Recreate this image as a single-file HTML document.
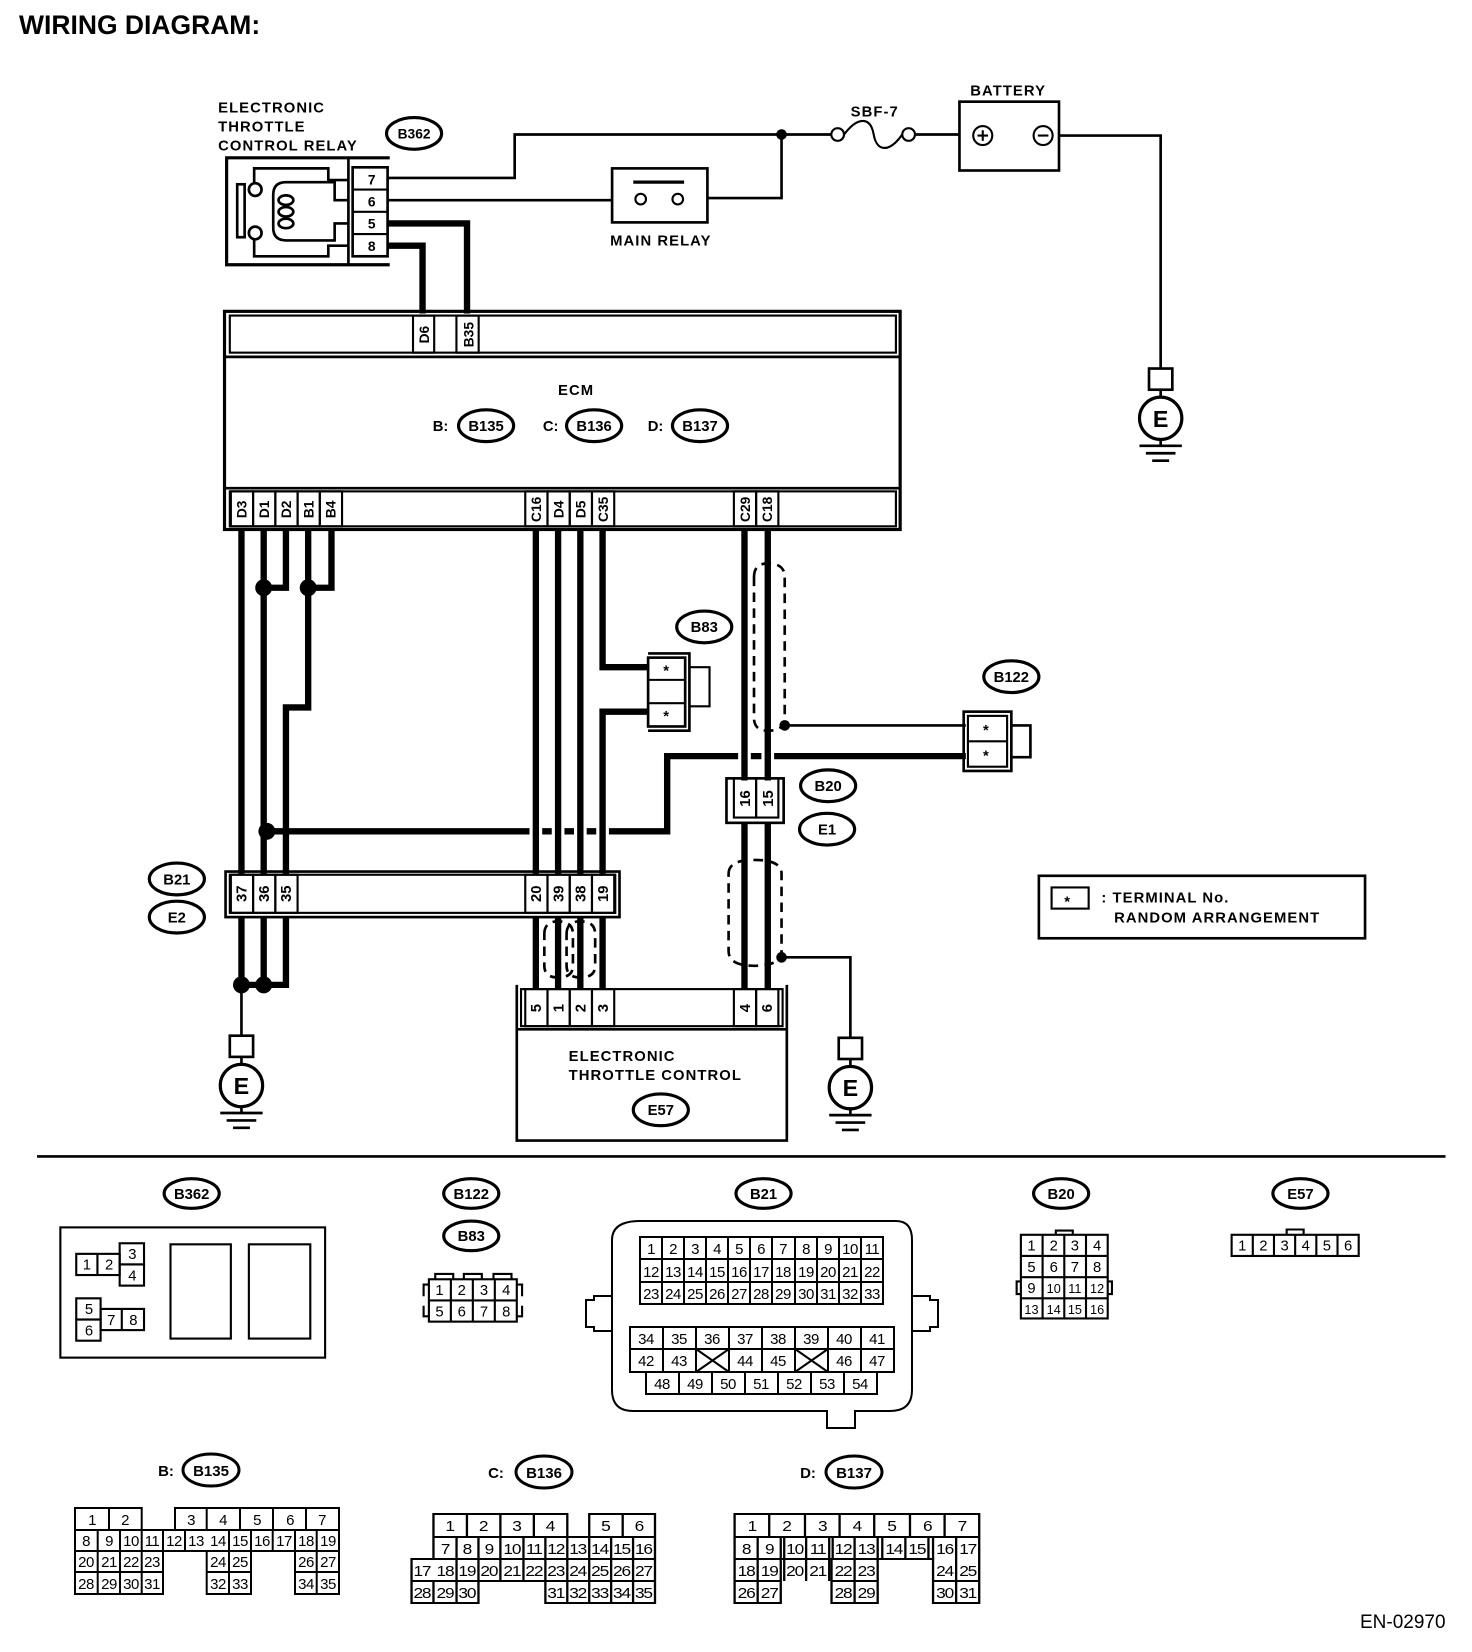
<!DOCTYPE html>
<html><head><meta charset="utf-8">
<style>
html,body{margin:0;padding:0;background:#fff;}
svg{display:block;}
text{font-family:"Liberation Sans",Arial,sans-serif;fill:#000;}
.b{font-weight:bold;}
</style></head>
<body>
<svg width="1472" height="1652" viewBox="0 0 1472 1652" xmlns="http://www.w3.org/2000/svg">
<defs>
<g id="gnd" fill="none" stroke="#000" stroke-width="2.5">
<rect x="-11" y="0" width="22" height="20" fill="#fff"/>
<line x1="0" y1="20" x2="0" y2="27"/>
<circle cx="0" cy="47" r="20" stroke-width="3"/>
<line x1="0" y1="67" x2="0" y2="73"/>
<line x1="-20" y1="73" x2="20" y2="73"/>
<line x1="-14" y1="80" x2="14" y2="80"/>
<line x1="-8" y1="87" x2="8" y2="87"/>
</g>
</defs>
<g transform="scale(1.0590)">
<text x="18" y="32" class="b" font-size="25">WIRING DIAGRAM:</text>

<g font-size="14" class="b" letter-spacing="1">
<text x="206" y="106">ELECTRONIC</text>
<text x="206" y="124">THROTTLE</text>
<text x="206" y="142">CONTROL RELAY</text>
</g>
<g fill="none" stroke="#000">
<ellipse cx="391" cy="126" rx="26" ry="15" stroke-width="3"/>
<path d="M368 149 H214 V250 H368" stroke-width="3"/>
<line x1="329" y1="149" x2="329" y2="250" stroke-width="2.5"/>
<rect x="333" y="158" width="33" height="84" stroke-width="2.5"/>
<line x1="333" y1="179" x2="366" y2="179" stroke-width="2"/>
<line x1="333" y1="200" x2="366" y2="200" stroke-width="2"/>
<line x1="333" y1="221" x2="366" y2="221" stroke-width="2"/>
<path d="M329 170 H310 V159 H240 V173" stroke-width="2.5"/>
<path d="M329 232 H310 V242 H240 V226" stroke-width="2.5"/>
<path d="M329 189 H316 V172 H270 Q258 172 258 184 V215 Q258 227 270 227 H316 V211 H329" stroke-width="2.5"/>
<rect x="224" y="174" width="7" height="50" stroke-width="2.5"/>
<circle cx="241" cy="179" r="6" fill="#fff" stroke-width="2.5"/>
<circle cx="241" cy="220" r="6" fill="#fff" stroke-width="2.5"/>
<ellipse cx="270" cy="189" rx="7" ry="4.5" stroke-width="2.5"/>
<ellipse cx="270" cy="200" rx="7" ry="4.5" stroke-width="2.5"/>
<ellipse cx="270" cy="211" rx="7" ry="4.5" stroke-width="2.5"/>
</g>
<g font-size="13" class="b" text-anchor="middle">
<text x="391" y="131">B362</text>
<text x="351" y="174">7</text><text x="351" y="195">6</text><text x="351" y="216">5</text><text x="351" y="237">8</text>
</g>

<g fill="none" stroke="#000" stroke-width="2.5">
<path d="M366 168 H486 V127 H785"/>
<path d="M366 189 H578"/>
<path d="M668 187 H738 V127"/>
<path d="M865 127 H906"/>
<path d="M1000 128 H1096 V348"/>
<rect x="578" y="159" width="90" height="51"/>
<line x1="598" y1="172" x2="646" y2="172" stroke-width="3"/>
<circle cx="605" cy="188" r="5" stroke-width="2"/>
<circle cx="640" cy="188" r="5" stroke-width="2"/>
<rect x="906" y="96" width="94" height="65"/>
<circle cx="928" cy="128" r="9" stroke-width="2"/>
<circle cx="985" cy="128" r="9" stroke-width="2"/>
<line x1="923" y1="128" x2="933" y2="128" stroke-width="2"/><line x1="928" y1="123" x2="928" y2="133" stroke-width="2"/>
<line x1="980" y1="128" x2="990" y2="128" stroke-width="2"/>
<circle cx="791" cy="127" r="6" stroke-width="2"/>
<circle cx="858" cy="127" r="6" stroke-width="2"/>
<path d="M797 127 C810 110 822 110 825 127 C828 144 840 144 852 127" stroke-width="2"/>
</g>
<circle cx="738" cy="127" r="5"/>
<g font-size="14" class="b" letter-spacing="1" text-anchor="middle">
<text x="624" y="232">MAIN RELAY</text>
<text x="826" y="110">SBF-7</text>
<text x="952" y="90">BATTERY</text>
</g>
<use href="#gnd" x="1096" y="348"/>
<text x="1096" y="403" class="b" font-size="22" text-anchor="middle">E</text>

<g fill="none" stroke="#000" stroke-width="6">
<path d="M366 211 H441 V296"/>
<path d="M366 232 H399 V296"/>
</g>

<g fill="none" stroke="#000">
<rect x="212" y="294" width="638" height="206" stroke-width="3"/>
<rect x="217" y="298" width="629" height="35" stroke-width="2"/>
<line x1="212" y1="337" x2="850" y2="337" stroke-width="2.5"/>
<line x1="212" y1="461" x2="850" y2="461" stroke-width="2.5"/>
<rect x="217" y="464" width="629" height="33" stroke-width="2"/>
<rect x="390" y="298" width="20" height="35" stroke-width="2"/>
<rect x="431" y="298" width="21" height="35" stroke-width="2"/>
</g>
<g font-size="13" class="b" text-anchor="middle">
<text transform="translate(405,316) rotate(-90)">D6</text>
<text transform="translate(447,316) rotate(-90)">B35</text>
</g>
<text x="544" y="373" font-size="14" class="b" text-anchor="middle" letter-spacing="1">ECM</text>
<g fill="none" stroke="#000" stroke-width="3">
<ellipse cx="459" cy="402" rx="26" ry="15"/>
<ellipse cx="561" cy="402" rx="26" ry="15"/>
<ellipse cx="661" cy="402" rx="26" ry="15"/>
</g>
<g font-size="14" class="b" text-anchor="middle">
<text x="416" y="407">B:</text><text x="459" y="407">B135</text>
<text x="520" y="407">C:</text><text x="561" y="407">B136</text>
<text x="619" y="407">D:</text><text x="661" y="407">B137</text>
</g>
<g fill="none" stroke="#000" stroke-width="2">
<rect x="218" y="464" width="21" height="33"/><rect x="239" y="464" width="21" height="33"/>
<rect x="260" y="464" width="21" height="33"/><rect x="281" y="464" width="21" height="33"/>
<rect x="302" y="464" width="21" height="33"/>
<rect x="496" y="464" width="21" height="33"/><rect x="517" y="464" width="21" height="33"/>
<rect x="538" y="464" width="21" height="33"/><rect x="559" y="464" width="21" height="33"/>
<rect x="693" y="464" width="21" height="33"/><rect x="714" y="464" width="21" height="33"/>
</g>
<g font-size="13" class="b" text-anchor="middle">
<text transform="translate(233,481) rotate(-90)">D3</text>
<text transform="translate(254,481) rotate(-90)">D1</text>
<text transform="translate(275,481) rotate(-90)">D2</text>
<text transform="translate(296,481) rotate(-90)">B1</text>
<text transform="translate(317,481) rotate(-90)">B4</text>
<text transform="translate(511,481) rotate(-90)">C16</text>
<text transform="translate(532,481) rotate(-90)">D4</text>
<text transform="translate(553,481) rotate(-90)">D5</text>
<text transform="translate(574,481) rotate(-90)">C35</text>
<text transform="translate(708,481) rotate(-90)">C29</text>
<text transform="translate(729,481) rotate(-90)">C18</text>
</g>

<g fill="none" stroke="#000" stroke-width="6">
<path d="M228 499 V825"/>
<path d="M249 499 V825"/>
<path d="M270 499 V555 H249"/>
<path d="M313 499 V555 H291"/>
<path d="M291 499 V668 H270 V825"/>
<path d="M506 499 V825"/>
<path d="M527 499 V825"/>
<path d="M548 499 V825"/>
<path d="M569 499 V630 H612"/>
<path d="M612 672 H569 V825"/>
<path d="M703 499 V737"/>
<path d="M725 499 V737"/>
<path d="M252 785 H500 M512 785 H521 M533 785 H542 M554 785 H563 M575 785 H630 V714 H697 M709 714 H719 M731 714 H912"/>
<path d="M228 866 V930 M249 866 V930 H228 M270 866 V930 H249"/>
<path d="M506 866 V934 M527 866 V934 M548 866 V934 M569 866 V934"/>
<path d="M703 776 V934 M725 776 V934"/>
</g>
<g fill="#000">
<circle cx="249" cy="555" r="8"/><circle cx="291" cy="555" r="8"/>
<circle cx="252" cy="785" r="8"/>
<circle cx="228" cy="930" r="8"/><circle cx="249" cy="930" r="8"/>
<circle cx="741" cy="685" r="5"/><circle cx="738" cy="904" r="5"/>
</g>
<g fill="none" stroke="#000" stroke-width="2.5">
<path d="M741 685 H912"/>
<path d="M738 904 H803 V980"/>
<path d="M228 930 V978"/>
</g>
<g fill="none" stroke="#000" stroke-width="2.5" stroke-dasharray="9,6">
<path d="M712 545 Q712 532 725 532 Q741 532 741 545 V678 Q741 690 725 690 Q712 690 712 678 Z"/>
<path d="M688 825 Q688 812 712 812 Q738 812 738 825 V898 Q738 912 712 912 Q688 912 688 898 Z"/>
<path d="M514 882 Q514 870 527 870 Q541 870 541 882 V912 Q541 923 527 923 Q514 923 514 912 Z"/>
<path d="M535 882 Q535 870 548 870 Q562 870 562 882 V912 Q562 923 548 923 Q535 923 535 912 Z"/>
</g>

<g fill="none" stroke="#000">
<ellipse cx="665" cy="592" rx="26" ry="15" stroke-width="3"/>
<path d="M612 617 H651 V690 H612" stroke-width="2.5"/>
<rect x="612" y="621" width="35" height="65" stroke-width="2.5"/>
<line x1="612" y1="642" x2="647" y2="642" stroke-width="2"/>
<line x1="612" y1="664" x2="647" y2="664" stroke-width="2"/>
<path d="M651 630 H670 V667 H651" stroke-width="2"/>
</g>
<g font-size="14" class="b" text-anchor="middle">
<text x="665" y="597">B83</text>
<text x="629" y="638">*</text><text x="629" y="681">*</text>
</g>
<g fill="none" stroke="#000">
<ellipse cx="955" cy="639" rx="26" ry="15" stroke-width="3"/>
<rect x="910" y="672" width="45" height="56" stroke-width="2.5"/>
<rect x="914" y="676" width="37" height="48" stroke-width="2"/>
<line x1="914" y1="700" x2="951" y2="700" stroke-width="2"/>
<path d="M955 685 H973 V715 H955" stroke-width="2.5"/>
</g>
<g font-size="14" class="b" text-anchor="middle">
<text x="955" y="644">B122</text>
<text x="931" y="694">*</text><text x="931" y="718">*</text>
</g>
<g fill="none" stroke="#000">
<rect x="686" y="735" width="54" height="42" stroke-width="2.5"/>
<rect x="693" y="735" width="21" height="37" stroke-width="2"/>
<rect x="714" y="735" width="21" height="37" stroke-width="2"/>
<ellipse cx="782" cy="742" rx="26" ry="15" stroke-width="3"/>
<ellipse cx="781" cy="783" rx="26" ry="15" stroke-width="3"/>
</g>
<g font-size="14" class="b" text-anchor="middle">
<text transform="translate(708,754) rotate(-90)">16</text>
<text transform="translate(730,754) rotate(-90)">15</text>
<text x="782" y="747">B20</text><text x="781" y="788">E1</text>
</g>

<g fill="none" stroke="#000">
<rect x="213" y="823" width="372" height="43" stroke-width="2.5"/>
<rect x="217" y="826" width="364" height="36" stroke-width="2"/>
<rect x="218" y="826" width="21" height="36" stroke-width="2"/><rect x="239" y="826" width="21" height="36" stroke-width="2"/>
<rect x="260" y="826" width="21" height="36" stroke-width="2"/>
<rect x="496" y="826" width="21" height="36" stroke-width="2"/><rect x="517" y="826" width="21" height="36" stroke-width="2"/>
<rect x="538" y="826" width="21" height="36" stroke-width="2"/><rect x="559" y="826" width="21" height="36" stroke-width="2"/>
<ellipse cx="167" cy="830" rx="26" ry="15" stroke-width="3"/>
<ellipse cx="167" cy="866" rx="26" ry="15" stroke-width="3"/>
</g>
<g font-size="14" class="b" text-anchor="middle">
<text transform="translate(233,844) rotate(-90)">37</text>
<text transform="translate(254,844) rotate(-90)">36</text>
<text transform="translate(275,844) rotate(-90)">35</text>
<text transform="translate(511,844) rotate(-90)">20</text>
<text transform="translate(532,844) rotate(-90)">39</text>
<text transform="translate(553,844) rotate(-90)">38</text>
<text transform="translate(574,844) rotate(-90)">19</text>
<text x="167" y="835">B21</text><text x="167" y="871">E2</text>
</g>

<g fill="none" stroke="#000">
<path d="M488 930 V1077 H743 V930" stroke-width="2.5"/>
<rect x="492" y="934" width="247" height="35" stroke-width="2"/>
<line x1="488" y1="972" x2="743" y2="972" stroke-width="2.5"/>
<rect x="496" y="934" width="21" height="35" stroke-width="2"/><rect x="517" y="934" width="21" height="35" stroke-width="2"/>
<rect x="538" y="934" width="21" height="35" stroke-width="2"/><rect x="559" y="934" width="21" height="35" stroke-width="2"/>
<rect x="693" y="934" width="21" height="35" stroke-width="2"/><rect x="714" y="934" width="21" height="35" stroke-width="2"/>
<ellipse cx="624" cy="1048" rx="26" ry="15" stroke-width="3"/>
</g>
<g font-size="14" class="b" text-anchor="middle">
<text transform="translate(511,952) rotate(-90)">5</text>
<text transform="translate(532,952) rotate(-90)">1</text>
<text transform="translate(553,952) rotate(-90)">2</text>
<text transform="translate(574,952) rotate(-90)">3</text>
<text transform="translate(708,952) rotate(-90)">4</text>
<text transform="translate(729,952) rotate(-90)">6</text>
<text x="624" y="1053">E57</text>
</g>
<g font-size="14" class="b" letter-spacing="1">
<text x="537" y="1002">ELECTRONIC</text>
<text x="537" y="1020">THROTTLE CONTROL</text>
</g>
<use href="#gnd" x="228" y="978"/>
<text x="228" y="1033" class="b" font-size="22" text-anchor="middle">E</text>
<use href="#gnd" x="803" y="980"/>
<text x="803" y="1035" class="b" font-size="22" text-anchor="middle">E</text>

<g fill="none" stroke="#000">
<rect x="981" y="827" width="308" height="59" stroke-width="2.5"/>
<rect x="993" y="838" width="35" height="20" stroke-width="2"/>
</g>
<g font-size="14" class="b" letter-spacing="1">
<text x="1005" y="856">*</text>
<text x="1040" y="852">: TERMINAL No.</text>
<text x="1052" y="871">RANDOM ARRANGEMENT</text>
</g>

<line x1="35" y1="1092" x2="1365" y2="1092" stroke="#000" stroke-width="2.5"/>

<g fill="none" stroke="#000" stroke-width="3">
<ellipse cx="181" cy="1127" rx="26" ry="14"/>
<ellipse cx="445" cy="1127" rx="26" ry="14"/>
<ellipse cx="445" cy="1167" rx="26" ry="14"/>
<ellipse cx="721" cy="1127" rx="26" ry="14"/>
<ellipse cx="1002" cy="1127" rx="26" ry="14"/>
<ellipse cx="1228" cy="1127" rx="26" ry="14"/>
</g>
<g font-size="14" class="b" text-anchor="middle">
<text x="181" y="1132">B362</text><text x="445" y="1132">B122</text><text x="445" y="1172">B83</text>
<text x="721" y="1132">B21</text><text x="1002" y="1132">B20</text><text x="1228" y="1132">E57</text>
</g>
<g fill="none" stroke="#000" stroke-width="2">
<rect x="57" y="1159" width="250" height="123"/>
<rect x="72" y="1184" width="41" height="20"/><line x1="92" y1="1184" x2="92" y2="1204"/>
<rect x="113" y="1174" width="23" height="20"/><rect x="113" y="1194" width="23" height="20"/>
<rect x="72" y="1226" width="23" height="20"/><rect x="72" y="1246" width="23" height="20"/>
<rect x="95" y="1236" width="41" height="20"/><line x1="115" y1="1236" x2="115" y2="1256"/>
<rect x="161" y="1175" width="57" height="89"/><rect x="235" y="1175" width="58" height="89"/>
<rect x="405" y="1208" width="83" height="40"/>
<line x1="405" y1="1228" x2="488" y2="1228"/>
<line x1="425.75" y1="1208" x2="425.75" y2="1248"/><line x1="446.5" y1="1208" x2="446.5" y2="1248"/><line x1="467.25" y1="1208" x2="467.25" y2="1248"/>
<path d="M405 1213 H400 V1224 M405 1243 H400 V1233 M488 1213 H493 V1224 M488 1243 H493 V1233"/>
<path d="M411 1208 V1203 H428 V1208 M438 1208 V1203 H455 V1208 M466 1208 V1203 H483 V1208"/>
<rect x="964" y="1166" width="82" height="79"/>
<line x1="964" y1="1186" x2="1046" y2="1186"/><line x1="964" y1="1206" x2="1046" y2="1206"/><line x1="964" y1="1226" x2="1046" y2="1226"/>
<line x1="984.5" y1="1166" x2="984.5" y2="1245"/><line x1="1005" y1="1166" x2="1005" y2="1245"/><line x1="1025.5" y1="1166" x2="1025.5" y2="1245"/>
<path d="M964 1210 H960 V1222 H964 M1046 1210 H1050 V1222 H1046 M997 1166 V1162 H1013 V1166"/>
<rect x="1163" y="1166" width="120" height="20"/>
<line x1="1183" y1="1166" x2="1183" y2="1186"/><line x1="1203" y1="1166" x2="1203" y2="1186"/><line x1="1223" y1="1166" x2="1223" y2="1186"/><line x1="1243" y1="1166" x2="1243" y2="1186"/><line x1="1263" y1="1166" x2="1263" y2="1186"/>
<path d="M1215 1166 V1161 H1231 V1166"/>
</g>
<g font-size="14" text-anchor="middle">
<text x="82" y="1199">1</text><text x="103" y="1199">2</text><text x="125" y="1189">3</text><text x="125" y="1209">4</text>
<text x="84" y="1241">5</text><text x="84" y="1261">6</text><text x="105" y="1251">7</text><text x="126" y="1251">8</text>
<text x="415" y="1223">1</text><text x="436" y="1223">2</text><text x="457" y="1223">3</text><text x="478" y="1223">4</text>
<text x="415" y="1243">5</text><text x="436" y="1243">6</text><text x="457" y="1243">7</text><text x="478" y="1243">8</text>
<text x="974" y="1181">1</text><text x="995" y="1181">2</text><text x="1015" y="1181">3</text><text x="1036" y="1181">4</text>
<text x="974" y="1201">5</text><text x="995" y="1201">6</text><text x="1015" y="1201">7</text><text x="1036" y="1201">8</text>
<text x="974" y="1221">9</text><text x="995" y="1221" font-size="12">10</text><text x="1015" y="1221" font-size="12">11</text><text x="1036" y="1221" font-size="12">12</text>
<text x="974" y="1241" font-size="12">13</text><text x="995" y="1241" font-size="12">14</text><text x="1015" y="1241" font-size="12">15</text><text x="1036" y="1241" font-size="12">16</text>
<text x="1173" y="1181">1</text><text x="1193" y="1181">2</text><text x="1213" y="1181">3</text><text x="1233" y="1181">4</text><text x="1253" y="1181">5</text><text x="1273" y="1181">6</text>
</g>
</g>

<!-- B21 pic (actual coords) -->
<g fill="none" stroke="#000" stroke-width="2">
<path d="M640 1221 H896 Q912 1221 912 1240 V1390 Q912 1411 890 1411 H855 V1428 H827 V1411 H633 Q612 1411 612 1390 V1240 Q612 1221 640 1221 Z"/>
<path d="M612 1296 H594 V1300 H586 V1327 H594 V1331 H612"/>
<path d="M912 1296 H930 V1300 H938 V1327 H930 V1331 H912"/>
<rect x="640" y="1237" width="243" height="67"/>
<line x1="640" y1="1259" x2="883" y2="1259"/><line x1="640" y1="1282" x2="883" y2="1282"/>
<line x1="662" y1="1237" x2="662" y2="1304"/><line x1="684" y1="1237" x2="684" y2="1304"/><line x1="706" y1="1237" x2="706" y2="1304"/><line x1="728" y1="1237" x2="728" y2="1304"/><line x1="750" y1="1237" x2="750" y2="1304"/><line x1="772" y1="1237" x2="772" y2="1304"/><line x1="795" y1="1237" x2="795" y2="1304"/><line x1="817" y1="1237" x2="817" y2="1304"/><line x1="839" y1="1237" x2="839" y2="1304"/><line x1="861" y1="1237" x2="861" y2="1304"/>
<rect x="630" y="1327" width="264" height="45"/>
<line x1="630" y1="1349" x2="894" y2="1349"/>
<line x1="663" y1="1327" x2="663" y2="1372"/><line x1="696" y1="1327" x2="696" y2="1372"/><line x1="729" y1="1327" x2="729" y2="1372"/><line x1="762" y1="1327" x2="762" y2="1372"/><line x1="795" y1="1327" x2="795" y2="1372"/><line x1="828" y1="1327" x2="828" y2="1372"/><line x1="861" y1="1327" x2="861" y2="1372"/>
<path d="M696 1349 L729 1372 M729 1349 L696 1372 M795 1349 L828 1372 M828 1349 L795 1372"/>
<rect x="646" y="1372" width="231" height="22"/>
<line x1="679" y1="1372" x2="679" y2="1394"/><line x1="712" y1="1372" x2="712" y2="1394"/><line x1="745" y1="1372" x2="745" y2="1394"/><line x1="778" y1="1372" x2="778" y2="1394"/><line x1="811" y1="1372" x2="811" y2="1394"/><line x1="844" y1="1372" x2="844" y2="1394"/>
</g>
<g font-size="15" text-anchor="middle" letter-spacing="-0.5">
<text x="651" y="1254">1</text><text x="673" y="1254">2</text><text x="695" y="1254">3</text><text x="717" y="1254">4</text><text x="739" y="1254">5</text><text x="761" y="1254">6</text><text x="783" y="1254">7</text><text x="806" y="1254">8</text><text x="828" y="1254">9</text><text x="850" y="1254">10</text><text x="872" y="1254">11</text>
<text x="651" y="1277">12</text><text x="673" y="1277">13</text><text x="695" y="1277">14</text><text x="717" y="1277">15</text><text x="739" y="1277">16</text><text x="761" y="1277">17</text><text x="783" y="1277">18</text><text x="806" y="1277">19</text><text x="828" y="1277">20</text><text x="850" y="1277">21</text><text x="872" y="1277">22</text>
<text x="651" y="1299">23</text><text x="673" y="1299">24</text><text x="695" y="1299">25</text><text x="717" y="1299">26</text><text x="739" y="1299">27</text><text x="761" y="1299">28</text><text x="783" y="1299">29</text><text x="806" y="1299">30</text><text x="828" y="1299">31</text><text x="850" y="1299">32</text><text x="872" y="1299">33</text>
<text x="646" y="1344">34</text><text x="679" y="1344">35</text><text x="712" y="1344">36</text><text x="745" y="1344">37</text><text x="778" y="1344">38</text><text x="811" y="1344">39</text><text x="844" y="1344">40</text><text x="877" y="1344">41</text>
<text x="646" y="1366">42</text><text x="679" y="1366">43</text><text x="745" y="1366">44</text><text x="778" y="1366">45</text><text x="844" y="1366">46</text><text x="877" y="1366">47</text>
<text x="662" y="1389">48</text><text x="695" y="1389">49</text><text x="728" y="1389">50</text><text x="761" y="1389">51</text><text x="794" y="1389">52</text><text x="827" y="1389">53</text><text x="860" y="1389">54</text>
</g>

<g fill="none" stroke="#000" stroke-width="3">
<ellipse cx="211" cy="1470" rx="28" ry="16"/>
<ellipse cx="544" cy="1472" rx="28" ry="16"/>
<ellipse cx="854" cy="1472" rx="28" ry="16"/>
</g>
<g font-size="15" class="b" text-anchor="middle">
<text x="166" y="1476">B:</text><text x="211" y="1476">B135</text>
<text x="496" y="1478">C:</text><text x="544" y="1478">B136</text>
<text x="808" y="1478">D:</text><text x="854" y="1478">B137</text>
</g>
<!-- B135 -->
<g fill="none" stroke="#000" stroke-width="2">
<path d="M141.7 1530 V1508 H75 V1594 H163 V1551 H206.7 V1594 H251 V1551 H295 V1594 H339 V1508 H175 V1530"/>
<line x1="75" y1="1530" x2="339" y2="1530"/>
<line x1="75" y1="1551" x2="339" y2="1551"/><line x1="75" y1="1572" x2="163" y2="1572"/><line x1="206.7" y1="1572" x2="251" y2="1572"/><line x1="295" y1="1572" x2="339" y2="1572"/>
<line x1="109" y1="1508" x2="109" y2="1530"/><line x1="206.7" y1="1508" x2="206.7" y2="1530"/><line x1="240" y1="1508" x2="240" y2="1530"/><line x1="273" y1="1508" x2="273" y2="1530"/><line x1="306" y1="1508" x2="306" y2="1530"/>
<line x1="97.7" y1="1530" x2="97.7" y2="1594"/><line x1="120" y1="1530" x2="120" y2="1594"/><line x1="141.7" y1="1530" x2="141.7" y2="1594"/><line x1="163" y1="1530" x2="163" y2="1551"/><line x1="185" y1="1530" x2="185" y2="1551"/>
<line x1="229" y1="1530" x2="229" y2="1594"/><line x1="251" y1="1530" x2="251" y2="1551"/><line x1="272.7" y1="1530" x2="272.7" y2="1551"/><line x1="295" y1="1530" x2="295" y2="1551"/><line x1="316.7" y1="1530" x2="316.7" y2="1594"/>
</g>
<g font-size="15" text-anchor="middle" letter-spacing="-0.5">
<text x="92" y="1525">1</text><text x="125" y="1525">2</text><text x="191" y="1525">3</text><text x="223" y="1525">4</text><text x="257" y="1525">5</text><text x="290" y="1525">6</text><text x="322" y="1525">7</text>
<text x="86" y="1546">8</text><text x="109" y="1546">9</text><text x="131" y="1546">10</text><text x="152" y="1546">11</text><text x="174" y="1546">12</text><text x="196" y="1546">13</text><text x="218" y="1546">14</text><text x="240" y="1546">15</text><text x="262" y="1546">16</text><text x="284" y="1546">17</text><text x="306" y="1546">18</text><text x="328" y="1546">19</text>
<text x="86" y="1567">20</text><text x="109" y="1567">21</text><text x="131" y="1567">22</text><text x="152" y="1567">23</text><text x="218" y="1567">24</text><text x="240" y="1567">25</text><text x="306" y="1567">26</text><text x="328" y="1567">27</text>
<text x="86" y="1589">28</text><text x="109" y="1589">29</text><text x="131" y="1589">30</text><text x="152" y="1589">31</text><text x="218" y="1589">32</text><text x="240" y="1589">33</text><text x="306" y="1589">34</text><text x="328" y="1589">35</text>
</g>
<!-- B136 / B137 scaled horizontally -->
<g transform="translate(400,1459) scale(1.1538,1) translate(-400,-1450)">
<g fill="none" stroke="#000" stroke-width="2">
<path d="M545 1528 V1505 H429 V1550 H410 V1594 H468 V1572 H526 V1594 H621 V1505 H564 V1528"/>
<line x1="429" y1="1528" x2="621" y2="1528"/><line x1="410" y1="1550" x2="621" y2="1550"/><line x1="410" y1="1572" x2="468" y2="1572"/><line x1="526" y1="1572" x2="621" y2="1572"/>
<line x1="458" y1="1505" x2="458" y2="1528"/><line x1="487" y1="1505" x2="487" y2="1528"/><line x1="516" y1="1505" x2="516" y2="1528"/><line x1="593" y1="1505" x2="593" y2="1528"/>
<line x1="449" y1="1528" x2="449" y2="1572"/><line x1="468" y1="1528" x2="468" y2="1572"/><line x1="487" y1="1528" x2="487" y2="1572"/><line x1="507" y1="1528" x2="507" y2="1572"/><line x1="526" y1="1528" x2="526" y2="1572"/><line x1="545" y1="1528" x2="545" y2="1594"/><line x1="564" y1="1528" x2="564" y2="1594"/><line x1="583" y1="1528" x2="583" y2="1594"/><line x1="602" y1="1528" x2="602" y2="1594"/>
<line x1="429" y1="1572" x2="429" y2="1594"/><line x1="449" y1="1572" x2="449" y2="1594"/>
<path d="M690 1505 H902 V1594 H862 V1550 H814 V1594 H774 V1550 H730 V1594 H690 Z"/>
<line x1="690" y1="1528" x2="902" y2="1528"/><line x1="690" y1="1550" x2="814" y2="1550"/><line x1="690" y1="1572" x2="730" y2="1572"/><line x1="774" y1="1572" x2="814" y2="1572"/><line x1="862" y1="1572" x2="902" y2="1572"/>
<line x1="720" y1="1505" x2="720" y2="1528"/><line x1="751" y1="1505" x2="751" y2="1528"/><line x1="781" y1="1505" x2="781" y2="1528"/><line x1="811" y1="1505" x2="811" y2="1528"/><line x1="842" y1="1505" x2="842" y2="1528"/><line x1="872" y1="1505" x2="872" y2="1528"/>
<line x1="710" y1="1528" x2="710" y2="1594"/><line x1="730" y1="1528" x2="730" y2="1550"/><line x1="733" y1="1528" x2="733" y2="1572"/><line x1="752" y1="1528" x2="752" y2="1572"/><line x1="772" y1="1528" x2="772" y2="1572"/><line x1="775" y1="1528" x2="775" y2="1550"/>
<line x1="794" y1="1528" x2="794" y2="1594"/><line x1="814" y1="1528" x2="814" y2="1550"/><line x1="818" y1="1528" x2="818" y2="1550"/><line x1="838" y1="1528" x2="838" y2="1550"/><line x1="858" y1="1528" x2="858" y2="1550"/><line x1="862" y1="1528" x2="862" y2="1550"/><line x1="882" y1="1528" x2="882" y2="1594"/>
</g>
<g font-size="15" text-anchor="middle" letter-spacing="-1">
<text x="443" y="1522">1</text><text x="472" y="1522">2</text><text x="501" y="1522">3</text><text x="530" y="1522">4</text><text x="578" y="1522">5</text><text x="607" y="1522">6</text>
<text x="439" y="1545">7</text><text x="458" y="1545">8</text><text x="477" y="1545">9</text><text x="497" y="1545">10</text><text x="516" y="1545">11</text><text x="535" y="1545">12</text><text x="554" y="1545">13</text><text x="573" y="1545">14</text><text x="592" y="1545">15</text><text x="611" y="1545">16</text>
<text x="419" y="1567">17</text><text x="439" y="1567">18</text><text x="458" y="1567">19</text><text x="477" y="1567">20</text><text x="497" y="1567">21</text><text x="516" y="1567">22</text><text x="535" y="1567">23</text><text x="554" y="1567">24</text><text x="573" y="1567">25</text><text x="592" y="1567">26</text><text x="611" y="1567">27</text>
<text x="419" y="1589">28</text><text x="439" y="1589">29</text><text x="458" y="1589">30</text><text x="535" y="1589">31</text><text x="554" y="1589">32</text><text x="573" y="1589">33</text><text x="592" y="1589">34</text><text x="611" y="1589">35</text>
<text x="705" y="1522">1</text><text x="735" y="1522">2</text><text x="766" y="1522">3</text><text x="796" y="1522">4</text><text x="826" y="1522">5</text><text x="857" y="1522">6</text><text x="887" y="1522">7</text>
<text x="700" y="1545">8</text><text x="720" y="1545">9</text><text x="742" y="1545">10</text><text x="762" y="1545">11</text><text x="784" y="1545">12</text><text x="804" y="1545">13</text><text x="828" y="1545">14</text><text x="848" y="1545">15</text><text x="872" y="1545">16</text><text x="892" y="1545">17</text>
<text x="700" y="1567">18</text><text x="720" y="1567">19</text><text x="742" y="1567">20</text><text x="762" y="1567">21</text><text x="784" y="1567">22</text><text x="804" y="1567">23</text><text x="872" y="1567">24</text><text x="892" y="1567">25</text>
<text x="700" y="1589">26</text><text x="720" y="1589">27</text><text x="784" y="1589">28</text><text x="804" y="1589">29</text><text x="872" y="1589">30</text><text x="892" y="1589">31</text>
</g>
</g>
<text x="1360" y="1628" font-size="19">EN-02970</text>
</svg>
</body></html>
